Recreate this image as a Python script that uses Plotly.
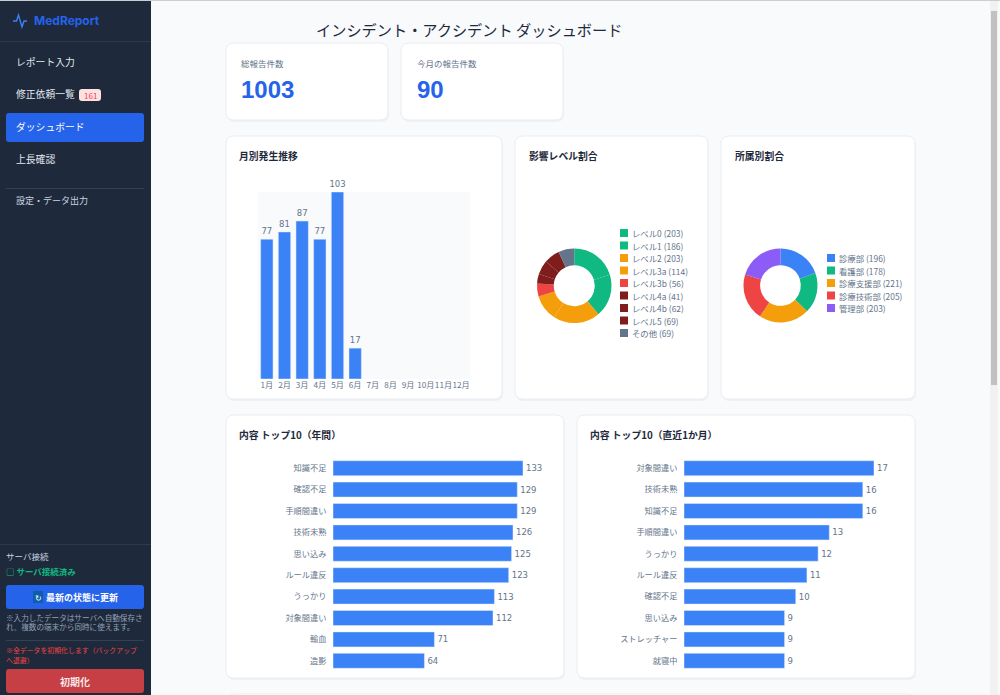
import plotly.graph_objects as go

W = 1000
H = 695
FONT = "Noto Sans CJK JP"

months = ["1月", "2月", "3月", "4月", "5月", "6月", "7月", "8月", "9月", "10月", "11月", "12月"]
month_counts = [77, 81, 87, 77, 103, 17, None, None, None, None, None, None]

level_names = ["レベル0", "レベル1", "レベル2", "レベル3a", "レベル3b", "レベル4a", "レベル4b", "レベル5", "その他"]
level_counts = [203, 186, 203, 114, 56, 41, 62, 69, 69]
level_colors = ["#10b981", "#10b981", "#f59e0b", "#f59e0b", "#ef4444", "#7f1d1d", "#7f1d1d", "#7f1d1d", "#64748b"]

dept_names = ["診療部", "看護部", "診療支援部", "診療技術部", "管理部"]
dept_counts = [196, 178, 221, 205, 203]
dept_colors = ["#3b82f6", "#10b981", "#f59e0b", "#ef4444", "#8b5cf6"]

year_items = ["知識不足", "確認不足", "手順間違い", "技術未熟", "思い込み", "ルール違反", "うっかり", "対象間違い", "輸血", "造影"]
year_counts = [133, 129, 129, 126, 125, 123, 113, 112, 71, 64]

recent_items = ["対象間違い", "技術未熟", "知識不足", "手順間違い", "うっかり", "ルール違反", "確認不足", "思い込み", "ストレッチャー", "就寝中"]
recent_counts = [17, 16, 16, 13, 12, 11, 10, 9, 9, 9]

shapes = []
notes = []


def px(x):
    return x / W


def py(y):
    return 1 - y / H


def round_box(x0, y0, x1, y1, fill, r=6, line=None, layer="below"):
    # rounded rectangle, given in page pixels
    p = (f"M {px(x0 + r)} {py(y0)} L {px(x1 - r)} {py(y0)} Q {px(x1)} {py(y0)} {px(x1)} {py(y0 + r)} "
         f"L {px(x1)} {py(y1 - r)} Q {px(x1)} {py(y1)} {px(x1 - r)} {py(y1)} "
         f"L {px(x0 + r)} {py(y1)} Q {px(x0)} {py(y1)} {px(x0)} {py(y1 - r)} "
         f"L {px(x0)} {py(y0 + r)} Q {px(x0)} {py(y0)} {px(x0 + r)} {py(y0)} Z")
    shapes.append(dict(type="path", path=p, xref="paper", yref="paper", fillcolor=fill, layer=layer,
                       line=dict(color=line or fill, width=1 if line else 0)))


def rect(x0, y0, x1, y1, fill, layer="below"):
    shapes.append(dict(type="rect", xref="paper", yref="paper", x0=px(x0), x1=px(x1), y0=py(y0), y1=py(y1),
                       fillcolor=fill, line_width=0, layer=layer))


def label(x, y, text, size=10, color="#1e293b", bold=False, anchor="left", family=FONT):
    t = f"<b>{text}</b>" if bold else text
    notes.append(dict(x=px(x), y=py(y), xref="paper", yref="paper", text=t, showarrow=False, xanchor=anchor,
                      yanchor="middle", font=dict(size=size, color=color, family=family),
                      borderpad=0, align=anchor))


def card(x0, y0, x1, y1):
    round_box(x0 + 1, y0 + 2, x1 + 1, y1 + 2, "#eef1f5", r=8)
    round_box(x0, y0, x1, y1, "#ffffff", r=8, line="#e9edf2")


def legend(names, counts, colors, x, y, step=12.5):
    for i, n in enumerate(names):
        rect(x, y + i * step - 4, x + 8, y + i * step + 4, colors[i])
        label(x + 10.5, y + i * step, f"{n} ({counts[i]})", size=8.4, color="#64748b")


# page and sidebar
rect(0, 0, W, H, "#f8fafc")
rect(0, 0, 151, H, "#1e293b")
rect(0, 0, W, 1, "#c9ced6")
rect(0, 41, 151, 42, "#2b3a4e")
rect(6, 188, 144, 189, "#334155")
rect(0, 544, 151, 545, "#2b3a4e")
rect(6, 640, 144, 641, "#334155")
round_box(6, 113, 144, 142, "#2563eb", r=3)
round_box(79, 89, 101, 101, "#fee2e2", r=3)
round_box(6, 585, 144, 609, "#2563eb", r=3)
round_box(6, 669, 144, 693, "#c53f44", r=3)
rect(33, 591, 43, 603, "#0f5ea8")

shapes.append(dict(type="path", xref="paper", yref="paper", layer="above",
                   path=(f"M {px(13)} {py(21)} L {px(16.5)} {py(21)} L {px(18.5)} {py(15)} L {px(22)} {py(27)} "
                         f"L {px(24)} {py(21)} L {px(27)} {py(21)}"),
                   line=dict(color="#3b82f6", width=1.4)))
label(33, 21, "MedReport", size=12, color="#2563eb", bold=True, family="Inter")
label(14.5, 62, "レポート入力", size=9.8, color="#e2e8f0")
label(14.5, 94, "修正依頼一覧", size=9.8, color="#e2e8f0")
label(90, 95, "161", size=8, color="#ef4444", anchor="center")
label(14.5, 127, "ダッシュボード", size=9.8, color="#ffffff")
label(14.5, 159, "上長確認", size=9.8, color="#e2e8f0")
label(14.5, 200, "設定・データ出力", size=9, color="#cbd5e1")
label(5, 556, "サーバ接続", size=8.5, color="#cbd5e1")
label(5, 571, "□ サーバ接続済み", size=8.5, color="#10b981", bold=True)
label(38, 597, "↻", size=8, color="#ffffff", anchor="center")
label(45, 597, "最新の状態に更新", size=9, color="#ffffff", bold=True)
label(5, 617, "※入力したデータはサーバへ自動保存さ", size=7.6, color="#94a3b8")
label(5, 626, "れ、複数の端末から同時に使えます。", size=7.6, color="#94a3b8")
label(5, 650, "※全データを初期化します（バックアップ", size=6.9, color="#ef4444")
label(5, 660, "へ退避）", size=6.9, color="#ef4444")
label(75, 681, "初期化", size=10, color="#f8e8e8", bold=True, anchor="center")

# scrollbar
rect(990, 1, 998, H, "#f1f1f1")
rect(991, 11, 997, 385, "#c1c1c1")

# cards
card(226, 43, 388, 120)
card(401, 43, 563, 120)
card(226, 136, 502, 399)
card(515, 136, 708, 399)
card(721, 136, 915, 399)
card(226, 415, 564, 678)
card(577, 415, 915, 678)
card(226, 694, 915, 720)

label(315, 29, "インシデント・アクシデント ダッシュボード", size=15.2, color="#1e293b")
label(240, 63, "総報告件数", size=8.5, color="#64748b")
label(240, 90, "1003", size=24, color="#2563eb", bold=True, family="Liberation Sans")
label(416, 63, "今月の報告件数", size=8.5, color="#64748b")
label(416, 90, "90", size=24, color="#2563eb", bold=True, family="Liberation Sans")
label(238, 156, "月別発生推移", size=9.8, bold=True)
label(528, 156, "影響レベル割合", size=9.8, bold=True)
label(734, 156, "所属別割合", size=9.8, bold=True)
label(238, 435, "内容 トップ10（年間）", size=9.8, bold=True)
label(589, 435, "内容 トップ10（直近1か月）", size=9.8, bold=True)

legend(level_names, level_counts, level_colors, 620, 233)
legend(dept_names, dept_counts, dept_colors, 827, 258)

# plot background of the monthly chart
shapes.append(dict(type="rect", xref="x domain", yref="y domain", x0=0, x1=1, y0=0, y1=1,
                   fillcolor="#f8fafc", line_width=0, layer="below"))

fig = go.Figure()
fig.add_trace(go.Bar(
    x=months, y=month_counts, marker_color="#3b82f6", xaxis="x", yaxis="y",
    text=month_counts, textposition="outside", cliponaxis=False, constraintext="none",
    textfont=dict(size=8.5, color="#64748b", family="DejaVu Sans")
))
fig.add_trace(go.Bar(
    y=year_items, x=year_counts, orientation="h", marker_color="#3b82f6", xaxis="x2", yaxis="y2",
    text=year_counts, textposition="outside", cliponaxis=False, constraintext="none",
    textfont=dict(size=8.5, color="#64748b", family="DejaVu Sans")
))
fig.add_trace(go.Bar(
    y=recent_items, x=recent_counts, orientation="h", marker_color="#3b82f6", xaxis="x3", yaxis="y3",
    text=recent_counts, textposition="outside", cliponaxis=False, constraintext="none",
    textfont=dict(size=8.5, color="#64748b", family="DejaVu Sans")
))
fig.add_trace(go.Pie(
    labels=level_names, values=level_counts, hole=0.55, sort=False, direction="clockwise",
    marker=dict(colors=level_colors, line=dict(width=0)), textinfo="none",
    domain=dict(x=[px(537), px(611.5)], y=[py(323), py(248.5)]), showlegend=False
))
fig.add_trace(go.Pie(
    labels=dept_names, values=dept_counts, hole=0.55, sort=False, direction="clockwise",
    marker=dict(colors=dept_colors, line=dict(width=0)), textinfo="none",
    domain=dict(x=[px(743.5), px(817.5)], y=[py(322.5), py(248.5)]), showlegend=False
))

tick = dict(size=8.2, color="#64748b", family=FONT)
fig.update_layout(
    width=W, height=H, margin=dict(l=0, r=0, t=0, b=0), autosize=False,
    paper_bgcolor="#ffffff", plot_bgcolor="rgba(0,0,0,0)", showlegend=False, bargap=0.3,
    shapes=shapes, annotations=notes, font=dict(family=FONT),
    xaxis=dict(domain=[px(258), px(470)], anchor="y", tickfont=tick, tickangle=0, dtick=1, showgrid=False,
               zeroline=False, showline=False, ticks=""),
    yaxis=dict(domain=[py(379), py(192)], anchor="x", range=[0, 103], visible=False),
    xaxis2=dict(domain=[px(333), px(523)], anchor="y2", range=[0, 133], visible=False),
    yaxis2=dict(domain=[py(671.5), py(457.5)], anchor="x2", autorange="reversed", tickfont=tick, dtick=1,
                showgrid=False, zeroline=False, showline=False, ticks="outside", ticklen=4,
                tickcolor="rgba(0,0,0,0)"),
    xaxis3=dict(domain=[px(684), px(874)], anchor="y3", range=[0, 17], visible=False),
    yaxis3=dict(domain=[py(671.5), py(457.5)], anchor="x3", autorange="reversed", tickfont=tick, dtick=1,
                showgrid=False, zeroline=False, showline=False, ticks="outside", ticklen=4,
                tickcolor="rgba(0,0,0,0)"),
)

fig.write_html("out.html", config={"displayModeBar": False},
               post_script="document.body.style.margin='0';document.body.style.overflow='hidden';")
